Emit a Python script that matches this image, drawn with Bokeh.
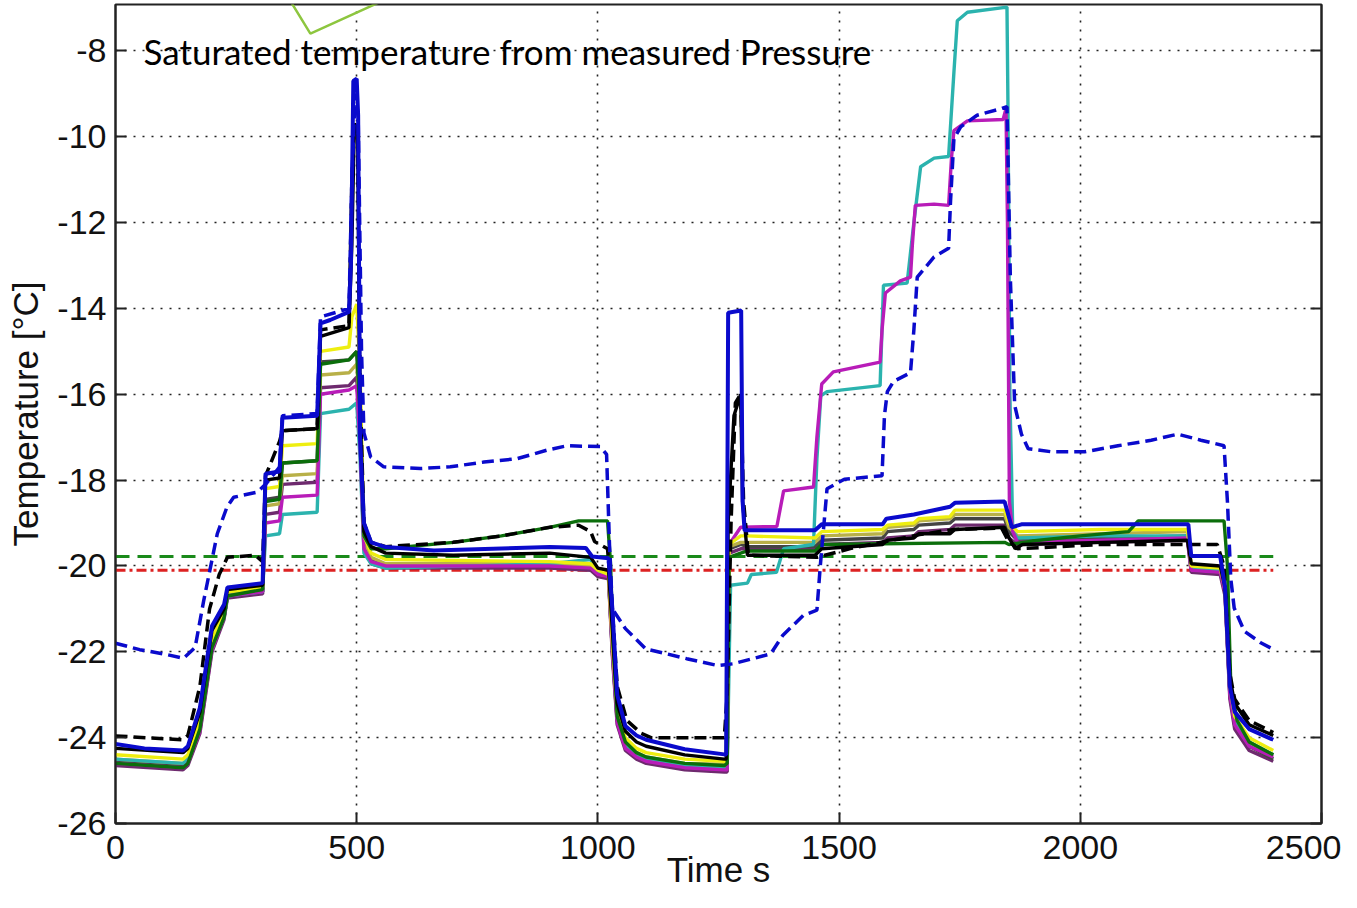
from bokeh.plotting import figure
from bokeh.models import FixedTicker, LinearAxis, Label, Range1d
from bokeh.embed import file_html
from bokeh.resources import INLINE

# ---------------- data ----------------
X_TICKS = [0, 500, 1000, 1500, 2000, 2500]
Y_TICKS = [-26, -24, -22, -20, -18, -16, -14, -12, -10, -8]
X_TICK_LABELS = {t: str(t) for t in X_TICKS}
Y_TICK_LABELS = {t: str(t) for t in Y_TICKS}

X_LABEL = "Time s"
Y_LABEL = "Temperature [°C]"
NOTE = "Saturated temperature from measured Pressure"
NOTE_POS = (58, -8.0)
CALLOUT_T = [355, 404, 580]
CALLOUT_Y = [-6.7, -7.597, -6.7]

# horizontal reference lines (time, temperature)
REF_T = [0, 2400]
GREEN_DASHED_Y = [-19.78, -19.78]
RED_DASHDOT_Y = [-20.1, -20.1]

BLUE_SOLID = [(0, -24.15), (60, -24.25), (140, -24.3), (150, -24.2), (175, -23.3), (200, -21.4),
              (225, -20.9), (232, -20.5), (305, -20.4), (311, -17.85), (340, -17.8), (346, -16.55),
              (418, -16.5), (425, -14.35), (445, -14.27), (484, -14.08), (488, -13.0), (493, -8.7),
              (500, -8.65), (503, -9.5), (507, -17.0), (515, -19.0), (530, -19.45), (560, -19.56),
              (660, -19.64), (900, -19.56), (975, -19.58), (988, -19.78), (1022, -19.82), (1030, -21.0),
              (1040, -23.0), (1057, -23.73), (1080, -23.95), (1100, -24.05), (1180, -24.27), (1262, -24.39),
              (1266, -24.4), (1270, -14.1), (1297, -14.05), (1300, -18.5), (1304, -19.17), (1450, -19.17),
              (1464, -19.03), (1590, -19.03), (1598, -18.9), (1655, -18.8), (1730, -18.62), (1740, -18.53),
              (1843, -18.5), (1848, -18.7), (1858, -19.1), (1878, -19.03), (2043, -19.03), (2224, -19.03),
              (2230, -19.77), (2290, -19.77), (2300, -20.5), (2310, -22.8), (2320, -23.4), (2350, -23.8),
              (2400, -24.05)]

BLACK_SOLID = [(0, -24.25), (140, -24.35), (150, -24.25), (175, -23.4), (200, -21.5), (225, -21.0),
               (232, -20.55), (305, -20.45), (311, -18.0), (340, -17.95), (346, -16.85), (418, -16.8),
               (425, -14.65), (484, -14.45), (490, -12.5), (495, -9.8), (502, -9.9), (507, -16.5),
               (515, -19.2), (530, -19.55), (560, -19.7), (700, -19.75), (900, -19.7), (985, -19.8),
               (1000, -20.05), (1022, -20.1), (1030, -21.5), (1040, -23.2), (1057, -23.85), (1080, -24.1),
               (1100, -24.2), (1180, -24.4), (1262, -24.5), (1266, -24.5), (1270, -19.0), (1282, -16.5),
               (1296, -16.0), (1300, -18.5), (1310, -19.75), (1450, -19.75), (1464, -19.6), (1590, -19.5),
               (1600, -19.4), (1655, -19.35), (1665, -19.25), (1730, -19.25), (1740, -19.15), (1843, -19.1),
               (1850, -19.3), (1865, -19.6), (1880, -19.5), (2043, -19.45), (2222, -19.4), (2230, -19.95),
               (2290, -20.0), (2300, -20.5), (2310, -22.6), (2320, -23.2), (2350, -23.7), (2400, -23.95)]

YELLOW_SOLID = [(0, -24.4), (140, -24.5), (150, -24.4), (175, -23.6), (200, -21.7), (225, -21.1),
                (232, -20.6), (305, -20.5), (311, -18.2), (340, -18.15), (346, -17.2), (418, -17.15),
                (425, -15.0), (484, -14.9), (490, -14.2), (500, -13.9), (507, -15.5), (515, -19.3),
                (530, -19.7), (560, -19.85), (900, -19.9), (985, -19.95), (1000, -20.1), (1022, -20.2),
                (1030, -21.8), (1040, -23.4), (1057, -24.0), (1080, -24.25), (1100, -24.35), (1180, -24.5),
                (1262, -24.55), (1268, -24.5), (1272, -19.5), (1296, -19.3), (1310, -19.3), (1450, -19.35),
                (1464, -19.2), (1590, -19.15), (1600, -19.05), (1655, -19.0), (1665, -18.9), (1730, -18.85),
                (1740, -18.7), (1843, -18.7), (1852, -19.0), (1870, -19.2), (2043, -19.15), (2222, -19.15),
                (2230, -20.0), (2290, -20.05), (2300, -20.5), (2310, -22.8), (2320, -23.5), (2350, -24.0),
                (2400, -24.3)]

GRAY_SOLID = [(0, -24.55), (140, -24.65), (150, -24.55), (175, -23.8), (200, -21.9), (225, -21.2),
              (232, -20.7), (305, -20.6), (311, -18.45), (340, -18.4), (346, -17.6), (418, -17.55),
              (425, -15.25), (484, -15.2), (500, -15.0), (507, -16.0), (515, -19.5), (530, -19.85),
              (560, -20.0), (900, -20.0), (985, -20.05), (1000, -20.2), (1022, -20.25), (1030, -22.0),
              (1040, -23.6), (1057, -24.2), (1080, -24.4), (1100, -24.5), (1180, -24.65), (1262, -24.7),
              (1268, -24.7), (1272, -19.6), (1296, -19.5), (1310, -19.55), (1450, -19.55), (1464, -19.4),
              (1590, -19.35), (1600, -19.2), (1655, -19.15), (1665, -19.05), (1730, -19.0), (1740, -18.9),
              (1843, -18.9), (1852, -19.2), (1870, -19.4), (2043, -19.35), (2222, -19.3), (2230, -20.1),
              (2290, -20.15), (2300, -20.6), (2310, -23.0), (2320, -23.7), (2350, -24.2), (2400, -24.5)]

OLIVE_SOLID = [(0, -24.5), (140, -24.6), (150, -24.5), (175, -23.7), (200, -21.8), (225, -21.15),
               (232, -20.65), (305, -20.55), (311, -18.6), (340, -18.55), (346, -17.9), (418, -17.85),
               (425, -15.55), (484, -15.5), (500, -15.3), (507, -16.5), (515, -19.4), (530, -19.8),
               (560, -19.95), (900, -19.95), (985, -20.0), (1000, -20.15), (1022, -20.2), (1030, -21.9),
               (1040, -23.5), (1057, -24.1), (1080, -24.35), (1100, -24.45), (1180, -24.6), (1262, -24.62),
               (1268, -24.6), (1272, -19.55), (1296, -19.45), (1310, -19.45), (1450, -19.45), (1464, -19.3),
               (1590, -19.25), (1600, -19.1), (1655, -19.05), (1665, -18.95), (1730, -18.9), (1740, -18.8),
               (1843, -18.8), (1852, -19.1), (1870, -19.3), (2043, -19.25), (2222, -19.2), (2230, -20.05),
               (2290, -20.1), (2300, -20.55), (2310, -22.9), (2320, -23.6), (2350, -24.1), (2400, -24.4)]

PURPLE_SOLID = [(0, -24.65), (140, -24.75), (150, -24.65), (175, -23.9), (200, -22.0), (225, -21.25),
                (232, -20.75), (305, -20.65), (311, -18.8), (340, -18.75), (346, -18.1), (418, -18.05),
                (425, -15.85), (484, -15.8), (500, -15.6), (507, -17.0), (515, -19.6), (530, -19.95),
                (560, -20.05), (900, -20.05), (985, -20.1), (1000, -20.25), (1022, -20.3), (1030, -22.1),
                (1040, -23.7), (1057, -24.3), (1080, -24.5), (1100, -24.6), (1180, -24.75), (1262, -24.8),
                (1268, -24.8), (1272, -19.7), (1296, -19.6), (1310, -19.6), (1450, -19.6), (1464, -19.5),
                (1590, -19.45), (1600, -19.35), (1655, -19.3), (1665, -19.2), (1730, -19.15), (1740, -19.05),
                (1843, -19.05), (1852, -19.35), (1870, -19.5), (2043, -19.45), (2222, -19.4), (2230, -20.15),
                (2290, -20.2), (2300, -20.7), (2310, -23.1), (2320, -23.8), (2350, -24.3), (2400, -24.55)]

MAGENTA_SOLID = [(0, -24.6), (140, -24.7), (150, -24.6), (175, -23.85), (200, -21.95), (225, -21.2),
                 (232, -20.7), (305, -20.6), (311, -19.0), (340, -18.95), (346, -18.4), (418, -18.35),
                 (425, -16.0), (484, -15.9), (500, -15.8), (507, -17.2), (515, -19.6), (530, -19.9),
                 (560, -20.0), (900, -20.0), (985, -20.05), (1000, -20.2), (1022, -20.25), (1030, -22.0),
                 (1040, -23.65), (1057, -24.25), (1080, -24.45), (1100, -24.55), (1180, -24.7), (1262, -24.75),
                 (1268, -24.75), (1272, -19.5), (1296, -19.1), (1371, -19.08), (1385, -18.25), (1447, -18.16),
                 (1454, -17.0), (1464, -15.76), (1488, -15.48), (1585, -15.25), (1589, -14.5), (1596, -13.64),
                 (1627, -13.36), (1648, -13.27), (1652, -12.5), (1658, -11.6), (1697, -11.57), (1727, -11.6),
                 (1733, -10.5), (1738, -9.86), (1766, -9.63), (1840, -9.6), (1846, -9.35), (1849, -12.0),
                 (1853, -18.5), (1860, -19.2), (1870, -19.45), (2043, -19.4), (2222, -19.35), (2230, -20.1),
                 (2290, -20.15), (2300, -20.6), (2310, -23.0), (2320, -23.7), (2350, -24.2), (2400, -24.45)]

CYAN_SOLID = [(0, -24.5), (140, -24.6), (150, -24.5), (175, -23.75), (200, -21.85), (225, -21.2),
              (232, -20.7), (305, -20.6), (311, -19.3), (340, -19.25), (346, -18.8), (418, -18.75),
              (425, -16.45), (484, -16.35), (500, -16.2), (507, -17.5), (515, -19.7), (530, -19.95),
              (560, -20.05), (900, -19.95), (985, -19.85), (1000, -20.15), (1022, -20.2), (1030, -21.9),
              (1040, -23.55), (1057, -24.15), (1080, -24.4), (1100, -24.5), (1180, -24.65), (1262, -24.7),
              (1268, -24.7), (1275, -20.45), (1310, -20.4), (1318, -20.2), (1370, -20.15), (1385, -19.6),
              (1447, -19.5), (1454, -17.5), (1462, -16.04), (1475, -15.94), (1585, -15.8), (1592, -13.46),
              (1641, -13.41), (1655, -12.0), (1669, -10.7), (1697, -10.5), (1727, -10.46), (1738, -8.5),
              (1745, -7.3), (1766, -7.1), (1848, -6.98), (1850, -9.2), (1854, -16.0), (1860, -19.2),
              (1870, -19.35), (2043, -19.3), (2222, -19.3), (2230, -20.05), (2290, -20.1), (2300, -20.5),
              (2310, -22.9), (2320, -23.6), (2350, -24.1), (2400, -24.4)]

DKGREEN_SOLID = [(0, -24.6), (140, -24.7), (150, -24.6), (175, -23.8), (200, -21.9), (225, -21.2),
                 (232, -20.7), (305, -20.55), (311, -18.5), (340, -18.45), (346, -17.6), (418, -17.55),
                 (425, -15.3), (484, -15.2), (500, -15.0), (507, -16.5), (515, -19.3), (530, -19.6),
                 (560, -19.6), (700, -19.45), (800, -19.3), (900, -19.1), (960, -18.95), (1020, -18.95),
                 (1026, -19.9), (1032, -21.9), (1040, -23.5), (1057, -24.1), (1080, -24.35), (1100, -24.45),
                 (1180, -24.6), (1262, -24.65), (1268, -24.6), (1272, -19.8), (1296, -19.7), (1310, -19.65),
                 (1450, -19.65), (1464, -19.5), (1843, -19.45), (1852, -19.5), (1900, -19.42), (2000, -19.3),
                 (2100, -19.2), (2120, -18.95), (2298, -18.95), (2305, -20.0), (2312, -22.8), (2325, -23.6),
                 (2350, -24.1), (2400, -24.4)]

BLACK_DASHED = [(0, -23.96), (140, -24.05), (150, -23.95), (175, -22.8), (195, -21.0), (215, -20.2),
                (232, -19.8), (290, -19.75), (305, -19.9), (311, -17.9), (340, -17.1), (346, -16.85),
                (418, -16.8), (425, -14.5), (484, -14.4), (490, -11.0), (495, -9.7), (502, -9.8),
                (507, -16.0), (515, -19.0), (530, -19.45), (560, -19.55), (700, -19.45), (800, -19.3),
                (900, -19.1), (960, -19.05), (985, -19.2), (993, -19.43), (1020, -19.6), (1030, -21.0),
                (1040, -22.8), (1060, -23.6), (1090, -23.9), (1110, -24.0), (1262, -24.0), (1268, -23.0),
                (1276, -19.0), (1285, -16.2), (1296, -16.0), (1302, -18.5), (1312, -19.75), (1454, -19.8),
                (1525, -19.59), (1596, -19.43), (1667, -19.27), (1738, -19.15), (1837, -19.12), (1850, -19.4),
                (1870, -19.6), (2043, -19.5), (2229, -19.5), (2284, -19.5), (2298, -20.0), (2310, -22.5),
                (2320, -23.1), (2350, -23.6), (2400, -23.88)]

BLUE_DASHED = [(0, -21.8), (50, -21.95), (100, -22.05), (141, -22.15), (165, -21.9), (183, -20.8),
               (211, -19.25), (231, -18.63), (245, -18.4), (294, -18.28), (311, -18.1), (340, -17.7),
               (346, -16.5), (418, -16.45), (425, -14.2), (484, -14.0), (490, -11.0), (497, -9.0),
               (503, -9.5), (510, -15.0), (515, -16.9), (529, -17.46), (556, -17.69), (632, -17.73),
               (694, -17.69), (764, -17.58), (833, -17.5), (895, -17.3), (936, -17.2), (1005, -17.22),
               (1018, -17.4), (1024, -19.5), (1030, -21.0), (1057, -21.46), (1099, -21.93), (1184, -22.16),
               (1248, -22.32), (1280, -22.28), (1358, -22.05), (1383, -21.62), (1426, -21.15), (1454, -21.03),
               (1461, -20.0), (1475, -18.2), (1511, -17.98), (1589, -17.9), (1594, -16.5), (1600, -15.94),
               (1613, -15.7), (1648, -15.5), (1655, -14.5), (1662, -13.27), (1697, -12.8), (1727, -12.6),
               (1731, -11.5), (1738, -10.05), (1752, -9.77), (1786, -9.5), (1835, -9.35), (1848, -9.3),
               (1855, -13.3), (1864, -16.26), (1878, -16.93), (1892, -17.27), (1940, -17.34), (2009, -17.34),
               (2078, -17.2), (2147, -17.07), (2202, -16.93), (2250, -17.07), (2298, -17.2), (2305, -18.5),
               (2312, -20.3), (2319, -20.98), (2340, -21.52), (2374, -21.79), (2398, -21.93)]


def cols(pairs):
    return [a for a, _ in pairs], [b for _, b in pairs]


TICK_FONT = "Liberation Sans"
AX = "#222222"

p = figure(width=1341, height=892, output_backend="svg", toolbar_location=None,
           x_range=Range1d(0, 2500), y_range=Range1d(-26, -6.92),
           min_border_left=115, min_border_right=20, min_border_top=4, min_border_bottom=69,
           background_fill_color="white", border_fill_color="white")

p.outline_line_color = AX
p.outline_line_width = 2

for ax in (p.xaxis[0], p.yaxis[0]):
    ax.axis_line_color = AX
    ax.axis_line_width = 2
    ax.major_tick_line_color = AX
    ax.major_tick_line_width = 2
    ax.major_tick_in = 11
    ax.major_tick_out = 0
    ax.minor_tick_line_color = None
    ax.major_label_text_font = TICK_FONT
    ax.major_label_text_font_size = "34px"
    ax.major_label_text_color = "#111111"
    ax.axis_label_text_font = TICK_FONT
    ax.axis_label_text_font_size = "35px"
    ax.axis_label_text_font_style = "normal"
    ax.axis_label_text_color = "#111111"

p.xaxis.ticker = FixedTicker(ticks=X_TICKS)
p.yaxis.ticker = FixedTicker(ticks=Y_TICKS)
p.xaxis.major_label_overrides = X_TICK_LABELS
p.yaxis.major_label_overrides = Y_TICK_LABELS
p.xaxis.axis_label = X_LABEL
p.yaxis.axis_label = Y_LABEL
p.xaxis.major_label_standoff = 12
p.xaxis.axis_label_standoff = -12
p.yaxis.major_label_standoff = 9
p.yaxis.axis_label_standoff = 9

right = LinearAxis(ticker=FixedTicker(ticks=Y_TICKS), axis_line_color=AX, axis_line_width=2,
                   major_tick_line_color=AX, major_tick_line_width=2, major_tick_in=11,
                   major_tick_out=0, minor_tick_line_color=None, major_label_text_font_size="1px",
                   major_label_text_color=None, major_label_standoff=0)
p.add_layout(right, "right")

p.grid.grid_line_color = "#222222"
p.grid.grid_line_width = 1.6
p.grid.grid_line_dash = "2 7"
p.xgrid.ticker = FixedTicker(ticks=X_TICKS)
p.ygrid.ticker = FixedTicker(ticks=Y_TICKS)

# horizontal references (under the bundle)
p.line(REF_T, GREEN_DASHED_Y, line_color="#1a8a1a", line_width=3.2, line_dash="14 8")
p.line(REF_T, RED_DASHDOT_Y, line_color="#dd2222", line_width=3.2, line_dash="10 4 3 4")

solids = [
    (PURPLE_SOLID, "#6e2a6e"),
    (GRAY_SOLID, "#444444"),
    (OLIVE_SOLID, "#b8b048"),
    (CYAN_SOLID, "#2bb3ae"),
    (MAGENTA_SOLID, "#b81cb8"),
    (YELLOW_SOLID, "#eeee10"),
    (DKGREEN_SOLID, "#0b6e0b"),
    (BLACK_SOLID, "#000000"),
]
for data, color in solids:
    t, y = cols(data)
    p.line(t, y, line_color=color, line_width=3.4)

t, y = cols(BLACK_DASHED)
p.line(t, y, line_color="#000000", line_width=3.5, line_dash="12 6")
t, y = cols(BLUE_DASHED)
p.line(t, y, line_color="#0a0acc", line_width=3.5, line_dash="12 6")
t, y = cols(BLUE_SOLID)
p.line(t, y, line_color="#0a0acc", line_width=4)

# callout and note
p.line(CALLOUT_T, CALLOUT_Y, line_color="#8dc63f", line_width=2.5)
p.add_layout(Label(x=NOTE_POS[0], y=NOTE_POS[1], text=NOTE, text_font="Lato",
                   text_font_size="35px", text_color="#000000", text_baseline="alphabetic"))

open("out.html", "w").write(file_html(p, INLINE))
